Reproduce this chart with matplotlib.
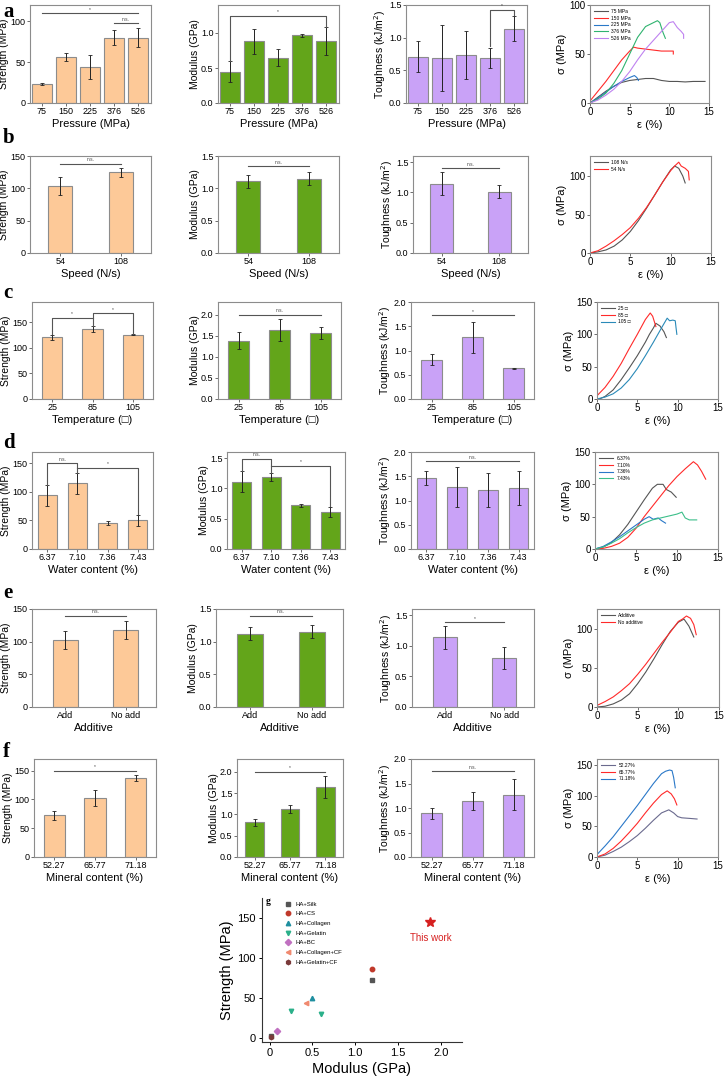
import matplotlib.pyplot as plt
import numpy as np

plt.rcParams['font.family'] = ['Liberation Sans', 'DejaVu Sans']

W, H = 724, 1080
fig = plt.figure(figsize=(7.24, 10.8), dpi=100)

STR_C = '#fdc998'
MOD_C = '#63a51a'
TOU_C = '#c9a2f7'
EDGE = '#8c8c8c'
DEG = '\u25a1'

# ---- a: pressure
a_cats = ['75', '150', '225', '376', '526']
a_str = [23.5, 56, 44, 80, 80]
a_str_err = [1.5, 5, 15, 9, 12]
a_mod = [0.45, 0.88, 0.65, 0.97, 0.88]
a_mod_err = [0.15, 0.18, 0.12, 0.02, 0.2]
a_tou = [0.71, 0.69, 0.73, 0.69, 1.14]
a_tou_err = [0.24, 0.5, 0.37, 0.15, 0.19]
a_labels = ['75 MPa', '150 MPa', '225 MPa', '376 MPa', '526 MPa']
a_eps = [[0, 1, 2, 3, 4, 5, 6, 7, 8, 9, 10, 11, 12, 13, 14.5],
         [0, 1, 2, 3, 4, 5, 5.5, 6, 7, 8, 9, 10, 10.5, 10.5],
         [0, 1, 2, 3, 4, 5, 5.6, 5.9, 6.1],
         [0, 1, 2, 3, 4, 5, 6, 7, 7.5, 8, 8.5, 8.8, 9.2, 9.5],
         [0, 1, 2, 3, 4, 5, 6, 7, 8, 9, 10, 10.5, 11, 11.5, 11.8, 11.8]]
a_sig = [[0, 6, 12, 17, 21, 23, 24, 25, 25, 23, 22, 22, 21.5, 22, 22],
         [2, 12, 22, 33, 44, 53, 57, 56, 55, 54, 53, 53, 53, 50],
         [0, 5, 11, 17, 22, 26, 28, 26, 23],
         [0, 4, 10, 20, 33, 50, 67, 78, 80, 82, 84, 82, 72, 66],
         [0, 3, 8, 14, 22, 32, 44, 55, 64, 73, 82, 83, 77, 73, 70, 66]]

# ---- b: speed
b_cats = ['54', '108']
b_str = [103, 125]
b_str_err = [14, 7]
b_mod = [1.11, 1.15]
b_mod_err = [0.1, 0.1]
b_tou = [1.14, 1.01]
b_tou_err = [0.19, 0.11]
b_labels = ['108 N/s', '54 N/s']
b_eps = [[0, 1, 2, 3, 4, 5, 6, 7, 8, 9, 10, 10.5, 11, 11.5, 11.8],
         [0, 1, 2, 3, 4, 5, 6, 7, 8, 9, 10, 10.5, 11, 11.3, 11.8, 12.2, 12.3]]
b_sig = [[0, 1.5, 4, 9, 17, 28, 42, 58, 75, 92, 108, 113, 110, 100, 91],
         [0, 3, 9, 16, 24, 33, 45, 59, 75, 92, 107, 113, 118, 113, 110, 106, 95]]

# ---- c: temperature
c_cats = ['25', '85', '105']
c_str = [121, 137, 126]
c_str_err = [5, 5.5, 1]
c_mod = [1.38, 1.63, 1.57]
c_mod_err = [0.2, 0.26, 0.14]
c_tou = [0.81, 1.27, 0.63]
c_tou_err = [0.11, 0.32, 0.01]
c_labels = ['25 ' + DEG, '85 ' + DEG, '105 ' + DEG]
c_eps = [[0.3, 1, 2, 3, 4, 5, 6, 6.5, 7, 7.3, 7.8, 8.3, 8.6],
         [0, 1, 2, 3, 4, 5, 6, 6.6, 6.9, 7.3],
         [0, 1, 2, 3, 4, 5, 6, 7, 8, 8.7, 9, 9.4, 9.7, 9.8, 9.9]]
c_sig = [[0, 4, 14, 30, 48, 67, 88, 100, 110, 117, 113, 104, 95],
         [5, 18, 35, 55, 78, 100, 123, 133, 128, 112],
         [0, 3, 8, 17, 30, 47, 67, 88, 110, 125, 121, 122, 121, 110, 100]]

# ---- d: water content
d_cats = ['6.37', '7.10', '7.36', '7.43']
d_str = [94, 115, 46, 50]
d_str_err = [19, 18, 3.5, 9.5]
d_mod = [1.11, 1.19, 0.72, 0.61]
d_mod_err = [0.17, 0.065, 0.02, 0.09]
d_tou = [1.46, 1.28, 1.22, 1.26]
d_tou_err = [0.15, 0.42, 0.35, 0.35]
d_labels = ['6.37%', '7.10%', '7.36%', '7.43%']
d_eps = [[0, 1, 2, 3, 4, 5, 6, 7, 7.6, 8.3, 8.7, 9.3, 9.9],
         [0, 1, 2, 3, 4, 5, 6, 7, 8, 9, 10, 11, 12, 12.5, 13, 13.5],
         [0, 1, 2, 3, 4, 5, 6, 6.6, 7.1, 7.7, 8.1, 8.6],
         [0, 1, 2, 3, 4, 5, 6, 7, 8, 9, 10, 10.6, 11, 11.5, 12.4]]
d_sig = [[0, 3, 10, 22, 38, 57, 76, 94, 100, 100, 92, 88, 80],
         [0, 1, 4, 9, 18, 32, 50, 66, 82, 98, 112, 124, 135, 130, 120, 108],
         [0, 4, 11, 19, 28, 37, 46, 50, 46, 48, 44, 40],
         [0, 3, 9, 16, 25, 33, 40, 45, 48, 51, 54, 57, 48, 45, 45]]

# ---- e: additive
e_cats = ['Add', 'No add']
e_str = [103, 118]
e_str_err = [14, 14]
e_mod = [1.12, 1.15]
e_mod_err = [0.1, 0.1]
e_tou = [1.14, 0.80]
e_tou_err = [0.19, 0.18]
e_labels = ['Additive', 'No additive']
e_eps = [[0, 1, 2, 3, 4, 5, 6, 7, 8, 9, 10, 10.7, 11.3, 11.9],
         [0, 1, 2, 3, 4, 5, 6, 7, 8, 9, 9.5, 10, 10.5, 11, 11.5, 11.9, 12.2]]
e_sig = [[0, 1, 4, 9, 17, 30, 45, 62, 80, 97, 109, 113, 104, 90],
         [2, 7, 13, 21, 30, 42, 55, 69, 83, 96, 103, 110, 113, 117, 114, 106, 93]]

# ---- f: mineral content
f_cats = ['52.27', '65.77', '71.18']
f_str = [72, 103, 137]
f_str_err = [7, 14, 5]
f_mod = [0.81, 1.12, 1.64]
f_mod_err = [0.09, 0.09, 0.26]
f_tou = [0.89, 1.14, 1.27]
f_tou_err = [0.11, 0.19, 0.32]
f_labels = ['52.27%', '65.77%', '71.18%']
f_eps = [[0, 1, 2, 3, 4, 5, 6, 7, 8, 8.9, 9.5, 10, 10.5, 11.5, 12.4],
         [0, 1, 2, 3, 4, 5, 6, 7, 8, 8.7, 9.2, 9.6, 9.9],
         [0, 1, 2, 3, 4, 5, 6, 7, 7.5, 8, 8.5, 9, 9.3, 9.5, 9.7]]
f_sig = [[0, 3, 9, 16, 25, 35, 47, 60, 72, 77, 72, 66, 64, 63, 62],
         [0, 5, 14, 26, 40, 55, 72, 88, 102, 108, 103, 95, 85],
         [4, 18, 33, 50, 67, 84, 102, 120, 128, 136, 140, 142, 141, 130, 113]]

# ---- g: comparison
g_names = ['HA+Silk', 'HA+CS', 'HA+Collagen', 'HA+Gelatin', 'HA+BC',
           'HA+Collagen+CF', 'HA+Gelatin+CF']
g_mod = [[1.2, 0.02], [1.2], [0.5], [0.6, 0.25], [0.08], [0.43], [0.01]]
g_str = [[72, 2], [86], [50], [30, 34], [9], [44], [1]]
g_markers = ['s', 'o', '^', 'v', 'D', '<', 'h']
g_colors = ['#555555', '#c0392b', '#1f8fa0', '#2bb08a', '#c070c0', '#f08a70', '#7a3a3a']
g_this_mod = 1.88
g_this_str = 145


def add_ax(l, t, r, b):
    return fig.add_axes([l / W, 1 - b / H, (r - l) / W, (b - t) / H])


def style(ax, size=6.5):
    for s in ax.spines.values():
        s.set_color(EDGE)
        s.set_linewidth(0.8)
    ax.tick_params(labelsize=size, length=2, width=0.6, color='#555555', pad=1.2)


def bars(ax, cats, vals, errs, color, ylim, yticks, ylabel, xlabel, xlim, width, fmt='%g'):
    x = np.arange(len(cats))
    ax.bar(x, vals, width, color=color, edgecolor=EDGE, linewidth=0.8)
    ax.errorbar(x, vals, yerr=errs, fmt='none', ecolor='#222222', elinewidth=0.7,
                capsize=1.3, capthick=0.6)
    ax.set_xticks(x)
    ax.set_xticklabels(cats)
    ax.set_xlim(*xlim)
    ax.set_ylim(*ylim)
    ax.set_yticks(yticks)
    ax.set_yticklabels([fmt % t for t in yticks])
    ax.set_ylabel(ylabel, fontsize=7.5, labelpad=1)
    ax.set_xlabel(xlabel, fontsize=8, labelpad=2)
    style(ax)


def sig(ax, x1, x2, y, label, y1=None, y2=None):
    if y1 is None:
        ax.plot([x1, x2], [y, y], color='#555555', lw=0.8)
    else:
        ax.plot([x1, x1, x2, x2], [y1, y, y, y2], color='#555555', lw=0.8)
    ylo, yhi = ax.get_ylim()
    ax.text((x1 + x2) / 2, y + (yhi - ylo) * 0.015, label, ha='center', va='bottom',
            fontsize=3.5, color='#444444')


def stress(ax, eps, sig_, labels, colors, ylim, yticks):
    for e, s, lab, c in zip(eps, sig_, labels, colors):
        ax.plot(e, s, color=c, lw=0.8, label=lab)
    ax.set_xlim(0, 15)
    ax.set_xticks([0, 5, 10, 15])
    ax.set_ylim(*ylim)
    ax.set_yticks(yticks)
    ax.set_ylabel('\u03c3 (MPa)', fontsize=8, labelpad=2)
    ax.set_xlabel('\u03b5 (%)', fontsize=8, labelpad=2)
    ax.legend(loc='upper left', fontsize=3.5, frameon=False, handlelength=2.8,
              labelspacing=0.35, borderaxespad=0.4)
    style(ax, 7)


rows_tb = [(5, 103), (156, 253), (302, 399), (452, 549), (609, 707), (759, 857)]
cols = [[(30, 151), (218, 339), (406, 527), (590, 709)],
        [(30, 151), (218, 339), (413, 528), (590, 711)],
        [(32, 153), (218, 341), (411, 534), (597, 718)],
        [(32, 153), (227, 345), (411, 534), (595, 718)],
        [(32, 156), (216, 343), (412, 534), (597, 719)],
        [(34, 156), (237, 343), (411, 534), (597, 718)]]
axs = [[add_ax(l, t, r, b) for (l, r) in cols[i]] for i, (t, b) in enumerate(rows_tb)]

GRAY = '#555555'
RED = '#ff2a2a'
BLUE = '#2a78c8'
GREEN = '#2fb36f'
VIOLET = '#bf82f0'
TEAL = '#2a8ab8'

# row a
ax = axs[0]
bars(ax[0], a_cats, a_str, a_str_err, STR_C, (0, 120), [0, 50, 100], 'Strength (MPa)',
     'Pressure (MPa)', (-0.5, 4.54), 0.82)
sig(ax[0], 0, 4, 110, '*')
sig(ax[0], 3, 4, 97.5, 'n.s.')
bars(ax[1], a_cats, a_mod, a_mod_err, MOD_C, (0, 1.4), [0, 0.5, 1.0], 'Modulus (GPa)',
     'Pressure (MPa)', (-0.5, 4.54), 0.82, '%.1f')
sig(ax[1], 0, 4, 1.25, '*', 0.6, 1.08)
bars(ax[2], a_cats, a_tou, a_tou_err, TOU_C, (0, 1.5), [0, 0.5, 1.0, 1.5],
     'Toughness (kJ/m$^2$)', 'Pressure (MPa)', (-0.5, 4.54), 0.82, '%.1f')
sig(ax[2], 3, 4, 1.43, '*', 0.88, 1.35)
stress(ax[3], a_eps, a_sig, a_labels, [GRAY, RED, BLUE, GREEN, VIOLET], (0, 100), [0, 50, 100])

# row b
ax = axs[1]
bars(ax[0], b_cats, b_str, b_str_err, STR_C, (0, 150), [0, 50, 100, 150], 'Strength (MPa)',
     'Speed (N/s)', (-0.5, 1.5), 0.4)
sig(ax[0], 0, 1, 138, 'n.s.')
bars(ax[1], b_cats, b_mod, b_mod_err, MOD_C, (0, 1.5), [0, 0.5, 1.0, 1.5], 'Modulus (GPa)',
     'Speed (N/s)', (-0.5, 1.5), 0.4, '%.1f')
sig(ax[1], 0, 1, 1.34, 'n.s.')
bars(ax[2], b_cats, b_tou, b_tou_err, TOU_C, (0, 1.6), [0, 0.5, 1.0, 1.5],
     'Toughness (kJ/m$^2$)', 'Speed (N/s)', (-0.5, 1.5), 0.4, '%.1f')
sig(ax[2], 0, 1, 1.4, 'n.s.')
stress(ax[3], b_eps, b_sig, b_labels, [GRAY, RED], (0, 126), [0, 50, 100])

# row c
ax = axs[2]
bars(ax[0], c_cats, c_str, c_str_err, STR_C, (0, 190), [0, 50, 100, 150], 'Strength (MPa)',
     'Temperature (' + DEG + ')', (-0.5, 2.5), 0.5)
sig(ax[0], 0, 1, 159, '*', 127, 143)
sig(ax[0], 1, 2, 168, '*', 159, 128)
bars(ax[1], c_cats, c_mod, c_mod_err, MOD_C, (0, 2.3), [0, 0.5, 1.0, 1.5, 2.0], 'Modulus (GPa)',
     'Temperature (' + DEG + ')', (-0.5, 2.5), 0.5, '%.1f')
sig(ax[1], 0, 2, 2.0, 'n.s.')
bars(ax[2], c_cats, c_tou, c_tou_err, TOU_C, (0, 2.0), [0, 0.5, 1.0, 1.5, 2.0],
     'Toughness (kJ/m$^2$)', 'Temperature (' + DEG + ')', (-0.5, 2.5), 0.5, '%.1f')
sig(ax[2], 0, 2, 1.73, '*')
stress(ax[3], c_eps, c_sig, c_labels, [GRAY, RED, TEAL], (0, 150), [0, 50, 100, 150])

# row d
ax = axs[3]
bars(ax[0], d_cats, d_str, d_str_err, STR_C, (0, 170), [0, 50, 100, 150], 'Strength (MPa)',
     'Water content (%)', (-0.5, 3.5), 0.63)
sig(ax[0], 0, 1, 150, 'n.s.', 113, 134)
sig(ax[0], 1, 3, 142.5, '*', 142.5, 61)
bars(ax[1], d_cats, d_mod, d_mod_err, MOD_C, (0, 1.6), [0, 0.5, 1.0, 1.5], 'Modulus (GPa)',
     'Water content (%)', (-0.5, 3.5), 0.63, '%.1f')
sig(ax[1], 0, 1, 1.49, 'n.s.', 1.29, 1.26)
sig(ax[1], 1, 3, 1.37, '*', 1.37, 0.71)
bars(ax[2], d_cats, d_tou, d_tou_err, TOU_C, (0, 2.0), [0, 0.5, 1.0, 1.5, 2.0],
     'Toughness (kJ/m$^2$)', 'Water content (%)', (-0.5, 3.5), 0.63, '%.1f')
sig(ax[2], 0, 3, 1.81, 'n.s.')
stress(ax[3], d_eps, d_sig, d_labels, [GRAY, RED, BLUE, '#3cbf8a'], (0, 150), [0, 50, 100, 150])

# row e
ax = axs[4]
bars(ax[0], e_cats, e_str, e_str_err, STR_C, (0, 150), [0, 50, 100, 150], 'Strength (MPa)',
     'Additive', (-0.55, 1.5), 0.41)
sig(ax[0], 0, 1, 140, 'n.s.')
bars(ax[1], e_cats, e_mod, e_mod_err, MOD_C, (0, 1.5), [0, 0.5, 1.0, 1.5], 'Modulus (GPa)',
     'Additive', (-0.55, 1.5), 0.41, '%.1f')
sig(ax[1], 0, 1, 1.4, 'n.s.')
bars(ax[2], e_cats, e_tou, e_tou_err, TOU_C, (0, 1.6), [0, 0.5, 1.0, 1.5],
     'Toughness (kJ/m$^2$)', 'Additive', (-0.55, 1.5), 0.41, '%.1f')
sig(ax[2], 0, 1, 1.38, '*')
stress(ax[3], e_eps, e_sig, e_labels, [GRAY, RED], (0, 126), [0, 50, 100])

# row f
ax = axs[5]
bars(ax[0], f_cats, f_str, f_str_err, STR_C, (0, 170), [0, 50, 100, 150], 'Strength (MPa)',
     'Mineral content (%)', (-0.5, 2.5), 0.53)
sig(ax[0], 0, 2, 150, '*')
bars(ax[1], f_cats, f_mod, f_mod_err, MOD_C, (0, 2.3), [0, 0.5, 1.0, 1.5, 2.0], 'Modulus (GPa)',
     'Mineral content (%)', (-0.5, 2.5), 0.53, '%.1f')
sig(ax[1], 0, 2, 2.0, '*')
bars(ax[2], f_cats, f_tou, f_tou_err, TOU_C, (0, 2.0), [0, 0.5, 1.0, 1.5, 2.0],
     'Toughness (kJ/m$^2$)', 'Mineral content (%)', (-0.5, 2.5), 0.53, '%.1f')
sig(ax[2], 0, 2, 1.75, 'n.s.')
stress(ax[3], f_eps, f_sig, f_labels, ['#6a6a8e', RED, BLUE], (0, 160), [0, 50, 100, 150])

# panel letters
for lab, y in zip('abcdef', [12, 138, 293, 443, 593, 752]):
    fig.text(3 / W, 1 - y / H, lab, fontsize=15, fontweight='bold', family='Liberation Serif',
             va='center', ha='left')

# panel g
axg = add_ax(262, 898, 462, 1042)
for name, xs, ys, m, c in zip(g_names, g_mod, g_str, g_markers, g_colors):
    axg.plot(xs, ys, m, color=c, ms=3.2, label=name, ls='none')
axg.plot([g_this_mod], [g_this_str], '*', color='#d62020', ms=7)
axg.text(g_this_mod, g_this_str - 20, 'This work', color='#d62020', fontsize=7,
         ha='center', va='center')
axg.set_xlim(-0.09, 2.25)
axg.set_ylim(-5, 175)
axg.set_xticks([0, 0.5, 1.0, 1.5, 2.0])
axg.set_xticklabels(['0', '0.5', '1.0', '1.5', '2.0'])
axg.set_yticks([0, 50, 100, 150])
axg.spines['top'].set_visible(False)
axg.spines['right'].set_visible(False)
axg.spines['left'].set_color('#333333')
axg.spines['bottom'].set_color('#333333')
axg.tick_params(labelsize=8, length=2.5, width=0.7, pad=2)
axg.set_xlabel('Modulus (GPa)', fontsize=10.5, labelpad=3)
axg.set_ylabel('Strength (MPa)', fontsize=10.5, labelpad=2)
axg.legend(loc='upper left', fontsize=4.3, frameon=False, handletextpad=0.3,
           labelspacing=0.75, borderaxespad=0.2, bbox_to_anchor=(0.08, 1.0))
fig.text(268 / W, 1 - 902 / H, 'g', fontsize=7, fontweight='bold', family='Liberation Serif',
         va='center', ha='center')

fig.savefig('out.png', dpi=100)
